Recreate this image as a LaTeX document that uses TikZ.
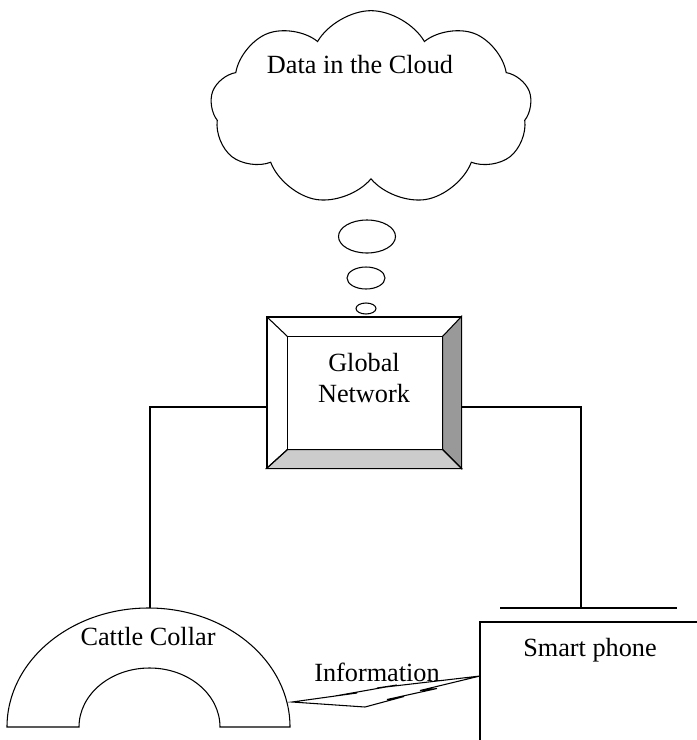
\documentclass[tikz,border=0pt]{standalone}
\usepackage{fontspec}
\setmainfont{Liberation Serif}
\usetikzlibrary{calc,shapes.symbols}

\begin{document}
\begin{tikzpicture}[x=0.75pt,y=-0.75pt,line width=0.8pt,line join=miter,
    lbl/.style={font=\fontsize{19.7}{23.5}\selectfont,align=center,inner sep=0pt}]
    \clip (0,0) rectangle (697,740);

    % Cloud with its thought bubbles
    \node[cloud,draw,cloud puffs=9,cloud puff arc=120,aspect=1.7,
          minimum width=241pt,minimum height=146pt] (cloud) at (371,108) {};
    \node[lbl] (cloudtext) at (360,65) {Data in the Cloud};
    \draw (367,236.5) ellipse [x radius=28.5,y radius=16.5];
    \draw (366,278) ellipse [x radius=19,y radius=11];
    \draw (366,308.5) ellipse [x radius=10,y radius=5.5];

    % Global network (bevelled box)
    \node[draw,minimum width=145.5pt,minimum height=113.25pt,inner sep=0pt] (net) at (364,392.5) {};
    \coordinate (inw) at ($(net.north west)+(21,20)$);
    \coordinate (ine) at ($(net.north east)+(-19,20)$);
    \coordinate (isw) at ($(net.south west)+(21,-19)$);
    \coordinate (ise) at ($(net.south east)+(-19,-19)$);
    \filldraw[fill=black!40] (net.north east) -- (net.south east) -- (ise) -- (ine) -- cycle;
    \filldraw[fill=black!20] (net.south west) -- (net.south east) -- (ise) -- (isw) -- cycle;
    \draw (net.north west) -- (inw) (net.south west) -- (isw);
    \draw (inw) rectangle (ise);
    \draw (net.north west) rectangle (net.south east);
    \node[lbl] (nettext) at (364,378) {Global\\Network};

    % Cattle collar
    \draw (7,727) arc [start angle=180,end angle=360,x radius=141.5,y radius=119]
        -- (220,727) arc [start angle=0,end angle=-180,x radius=70.5,y radius=59] -- cycle;
    \coordinate (collartop) at (150,608);
    \node[lbl] (collartext) at (148,637) {Cattle Collar};

    % Smart phone
    \coordinate (phone) at (480,622);
    \draw (480,760) |- (720,622);
    \coordinate (barL) at (500,608);
    \coordinate (barR) at (677,608);
    \coordinate (phonebar) at (581,608);
    \draw (barL) -- (barR);
    \node[lbl] (phonetext) at (590,650) {Smart phone};

    % Links to the network
    \draw ($(net.west)+(0,14.5)$) -| (collartop);
    \draw ($(net.east)+(0,14.5)$) -| (phonebar);

    % Wireless link
    \coordinate (zapA) at (292,702);
    \coordinate (zapB) at (480,676);
    \draw (zapA) -- (357,693) -- (335,696) -- (397,685) -- (377,688) -- (zapB)
        -- (420,690.5) -- (437,688.5) -- (387,699.5) -- (404,696.5) -- (365,707) -- cycle;
    \node[lbl] (infotext) at (377,672) {Information};
\end{tikzpicture}
\end{document}
